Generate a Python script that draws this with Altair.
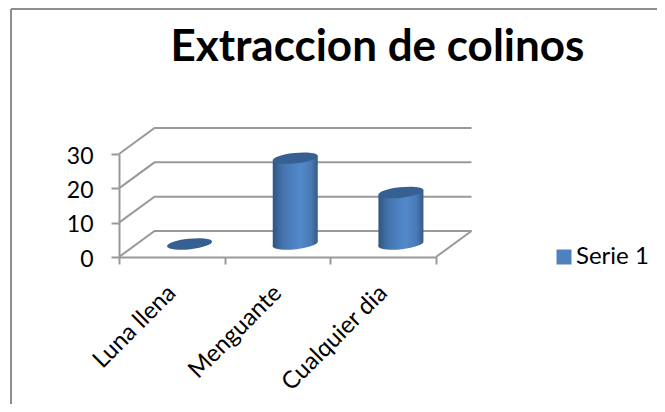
import altair as alt
import pandas as pd

categories = ["Luna llena", "Menguante", "Cualquier dia"]
values = [0, 25, 15]
series_name = "Serie 1"
y_ticks = [0, 10, 20, 30]
title_text = "Extraccion de colinos"

GREY = "#999999"
FRAME = "#8e8e8e"
TOP = "#376092"
FONT = "Lato"
W, H = 317, 103
DX, DV = 35.5 * 3 / W, 26 * 30 / H      # depth offset in data units
RX = 22.5 * 3 / W                       # cylinder radius in x units
TILT = 2.4 * 30 / H                     # tilt of an ellipse, value units
BAND = alt.Gradient(
    gradient="linear", x1=0, x2=1, y1=0, y2=0,
    stops=[
        alt.GradientStop(offset=0, color="#2f5582"),
        alt.GradientStop(offset=0.22, color="#4474ad"),
        alt.GradientStop(offset=0.6, color="#5289cc"),
        alt.GradientStop(offset=0.85, color="#4a7ab3"),
        alt.GradientStop(offset=1, color="#35598a"),
    ],
)
ELLIPSE = "M-1,0.11 A1,0.23,-6,1,1,1,-0.11 A1,0.23,-6,1,1,-1,0.11 Z"

xq = alt.Scale(domain=[0, 3], nice=False, zero=False)
yq = alt.Scale(domain=[0, 30], nice=False, zero=False)
YAXIS = alt.Axis(values=y_ticks, labelFont=FONT, labelFontSize=23, labelColor="black",
                 labelPadding=18, labelOffset=2, tickColor=GREY, tickWidth=2, tickSize=8,
                 domainColor=GREY, domainWidth=2, grid=False, title=None)
X = lambda f="x": alt.X(f"{f}:Q", scale=xq, axis=None)
Y = lambda f="y": alt.Y(f"{f}:Q", scale=yq, axis=YAXIS, stack=None)

# walls and floor
rows = []
for t in y_ticks:
    rows += [dict(k=f"w{t}", o=0, x=0, y=t), dict(k=f"w{t}", o=1, x=DX, y=t + DV),
             dict(k=f"w{t}", o=2, x=3 + DX, y=t + DV)]
rows += [dict(k="f", o=0, x=3, y=0), dict(k="f", o=1, x=3 + DX, y=DV)]
walls = alt.Chart(pd.DataFrame(rows)).mark_line(color=GREY, strokeWidth=2).encode(
    x=X(), y=Y(), detail="k:N", order="o:Q")

centers = pd.DataFrame([
    dict(name=c, x=i + 0.5 + DX / 2, base=DV / 2, y=v + DV / 2, v=v)
    for i, (c, v) in enumerate(zip(categories, values))
])
tall = centers[centers["v"] > 0]

bottom = alt.Chart(tall).mark_point(shape=ELLIPSE, filled=True, size=2025, opacity=1, fill=BAND).encode(
    x=X(), y=Y("base"))

body_rows = []
for _, r in tall.iterrows():
    body_rows += [dict(name=r["name"], x=r["x"] - RX, y=r["y"] - TILT, y2=r["base"] - TILT),
                  dict(name=r["name"], x=r["x"] + RX, y=r["y"] + TILT, y2=r["base"] + TILT)]
body = alt.Chart(pd.DataFrame(body_rows)).mark_area(color=BAND, line=False).encode(
    x=X(), y=Y(), y2="y2:Q", detail="name:N")

tops = alt.Chart(centers).mark_point(shape=ELLIPSE, filled=True, size=2025, opacity=1, color=TOP).encode(
    x=X(), y=Y())

# layer carrying the x axis and the legend
base_df = pd.DataFrame({"cat": categories, "v": values, "s": [series_name] * 3})
axes = alt.Chart(base_df).mark_bar(opacity=0).encode(
    x=alt.X("cat:N", sort=categories, title=None,
            scale=alt.Scale(paddingInner=0, paddingOuter=0),
            axis=alt.Axis(labelAngle=-45, labelAlign="right", labelBaseline="middle", labelFont=FONT,
                          labelFontSize=24, labelColor="black", labelPadding=25, tickBand="extent",
                          tickColor=GREY, tickWidth=2, tickSize=7, domainColor=GREY, domainWidth=2,
                          grid=False)),
    y=Y("v"),
    color=alt.Color("s:N", scale=alt.Scale(domain=[series_name], range=["#4f81bd"]),
                    legend=alt.Legend(title=None, orient="none", legendX=433, legendY=91,
                                      symbolType="square", symbolSize=225, symbolOpacity=1,
                                      labelFont=FONT, labelFontSize=24, labelColor="black",
                                      labelOffset=0)),
)

# chart frame, left and top edges
frame_l = alt.Chart(pd.DataFrame({"a": [0]})).mark_rule(color=FRAME, strokeWidth=2).encode(
    x=alt.value(-108), y=alt.value(-145), y2=alt.value(250))
frame_t = alt.Chart(pd.DataFrame({"a": [0]})).mark_rule(color=FRAME, strokeWidth=2).encode(
    x=alt.value(-108), x2=alt.value(538), y=alt.value(-145))

chart = alt.layer(frame_l, frame_t, walls, axes, bottom, body, tops).resolve_scale(x="independent").properties(
    width=W, height=H,
    autosize=alt.AutoSizeParams(type="none"),
    padding={"left": 111, "top": 146, "right": 221, "bottom": 147},
    title=alt.TitleParams(title_text, font=FONT, fontSize=44, fontWeight="bold", color="black",
                          anchor="middle", frame="group", dx=100, offset=-62),
).configure_view(stroke=None)

chart.save("out.html", embed_options={"renderer": "svg", "actions": False})
